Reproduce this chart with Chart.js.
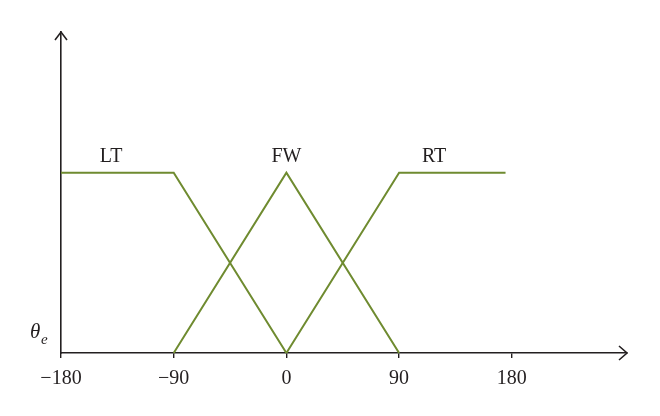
<!DOCTYPE html>
<html>
<head>
<meta charset="utf-8">
<script src="https://cdn.jsdelivr.net/npm/chart.js@4"></script>
<style>
  html, body { margin: 0; padding: 0; background: #fff; }
  #wrap { width: 660px; height: 416px; }
</style>
</head>
<body>
<div id="wrap"><canvas id="chartPic" width="660" height="416"></canvas></div>
<script>
// membership functions (x in degrees, y membership)
const ltX = [-180, -90, 0];
const ltY = [1, 1, 0];
const fwX = [-90, 0, 90];
const fwY = [0, 1, 0];
const rtX = [0, 90, 175];
const rtY = [0, 1, 1];

const tickValues = [-180, -90, 0, 90, 180];
const tickLabels = ['\u2212180', '\u221290', '0', '90', '180'];

const setNames = ['LT', 'FW', 'RT'];
const nameX = [-140, 0, 118];
const nameY = 1.09;

const green = '#6f8b30';
const ink = '#231f20';

function pts(xs, ys) {
    return xs.map(function (x, i) { return {x: x, y: ys[i]}; });
}

const extras = {
    id: 'extras',
    afterDraw: function (chart) {
        const ctx = chart.ctx;
        const xs = chart.scales.x, ys = chart.scales.y;
        const x0 = xs.left, y0 = ys.bottom;
        ctx.save();
        ctx.strokeStyle = ink;
        ctx.lineWidth = 1.6;
        // arrow heads
        ctx.beginPath();
        ctx.moveTo(xs.right - 8, y0 - 7);
        ctx.lineTo(xs.right, y0);
        ctx.lineTo(xs.right - 8, y0 + 7);
        ctx.moveTo(x0 - 6, ys.top + 8);
        ctx.lineTo(x0, ys.top);
        ctx.lineTo(x0 + 6, ys.top + 8);
        ctx.stroke();
        // set names
        ctx.fillStyle = ink;
        ctx.font = '20px "Liberation Serif", serif';
        ctx.textAlign = 'center';
        ctx.textBaseline = 'middle';
        setNames.forEach(function (n, i) {
            ctx.fillText(n, xs.getPixelForValue(nameX[i]), ys.getPixelForValue(nameY));
        });
        // theta_e
        ctx.textAlign = 'left';
        ctx.textBaseline = 'alphabetic';
        ctx.font = 'italic 21px "Liberation Serif", serif';
        ctx.fillText('\u03b8', x0 - 31, y0 - 15);
        ctx.font = 'italic 15px "Liberation Serif", serif';
        ctx.fillText('e', x0 - 20, y0 - 9);
        ctx.restore();
    }
};

const ctx = document.getElementById('chartPic');
const myChart = new Chart(ctx, {
    type: 'line',
    data: {
        datasets: [
            {label: 'LT', data: pts(ltX, ltY)},
            {label: 'FW', data: pts(fwX, fwY)},
            {label: 'RT', data: pts(rtX, rtY)}
        ].map(function (d) {
            d.borderColor = green;
            d.borderWidth = 2;
            d.pointRadius = 0;
            d.tension = 0;
            d.clip = false;
            return d;
        })
    },
    options: {
        responsive: false,
        animation: false,
        layout: {padding: {left: 61, right: 33, top: 32, bottom: 16}},
        scales: {
            x: {
                type: 'linear',
                min: -180,
                max: 272,
                afterBuildTicks: function (axis) {
                    axis.ticks = tickValues.map(function (v) { return {value: v}; });
                },
                ticks: {
                    color: ink,
                    padding: 9,
                    maxRotation: 0,
                    font: {size: 20, family: "'Liberation Serif', serif"},
                    callback: function (value) {
                        return tickLabels[tickValues.indexOf(value)];
                    }
                },
                grid: {drawOnChartArea: false, color: ink, tickLength: 5, lineWidth: 1.4},
                border: {color: ink, width: 1.6}
            },
            y: {
                min: 0,
                max: 1.78,
                ticks: {display: false},
                grid: {display: false, drawTicks: false},
                border: {color: ink, width: 1.6}
            }
        },
        plugins: {
            legend: {display: false},
            tooltip: {enabled: false}
        }
    },
    plugins: [extras]
});
</script>
</body>
</html>
